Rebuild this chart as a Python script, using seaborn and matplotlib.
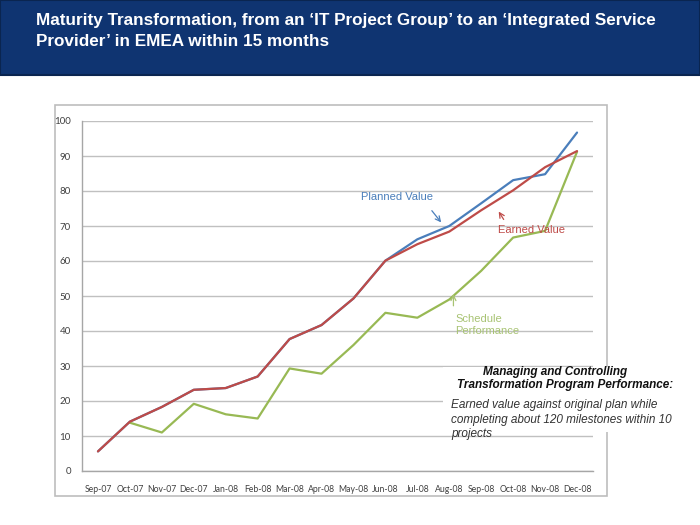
import numpy as np
import pandas as pd
import matplotlib
matplotlib.use("Agg")
import matplotlib.pyplot as plt
import seaborn as sns
from matplotlib.patches import Rectangle
from matplotlib.ticker import FixedLocator

# months on the x axis
months = ["Sep-07", "Oct-07", "Nov-07", "Dec-07", "Jan-08", "Feb-08", "Mar-08", "Apr-08",
          "May-08", "Jun-08", "Jul-08", "Aug-08", "Sep-08", "Oct-08", "Nov-08", "Dec-08"]

planned_value = [5.6, 14.1, 18.3, 23.2, 23.7, 27.0, 37.7, 41.7,
                 49.3, 60.1, 66.2, 70.0, 76.5, 83.1, 84.8, 96.7]
earned_value = [5.6, 14.1, 18.3, 23.2, 23.7, 27.0, 37.7, 41.7,
                49.3, 60.1, 64.8, 68.4, 74.5, 80.2, 86.8, 91.4]
schedule_perf = [np.nan, 13.8, 11.0, 19.2, 16.2, 15.0, 29.3, 27.8,
                 36.0, 45.2, 43.8, 49.0, 57.2, 66.7, 68.6, 91.2]

df = pd.DataFrame({"month": months, "planned": planned_value,
                   "earned": earned_value, "schedule": schedule_perf})

sns.set_style("white")
plt.rcParams["font.family"] = ["Liberation Sans", "DejaVu Sans"]

W, H = 700, 525
fig = plt.figure(figsize=(7, 5.25), dpi=100)

# navy header band
fig.patches.append(Rectangle((0, 1 - 75 / H), 1, 75 / H, transform=fig.transFigure,
                             facecolor="#0f3471", edgecolor="#0a2550", lw=1.5, zorder=0))
fig.text(36 / W, 1 - 20 / H, "Maturity Transformation, from an \u2018IT Project Group\u2019 to an \u2018Integrated Service",
         color="white", fontsize=12.3, fontweight="bold", va="center", ha="left")
fig.text(36 / W, 1 - 41 / H, "Provider\u2019 in EMEA within 15 months",
         color="white", fontsize=12.3, fontweight="bold", va="center", ha="left")

# chart frame
fig.patches.append(Rectangle((55 / W, 1 - 496 / H), 552 / W, 391 / H, transform=fig.transFigure,
                             facecolor="white", edgecolor="#bdbdbd", lw=1.2, zorder=0))

ax = fig.add_axes([82 / W, 1 - 471 / H, 511 / W, 350 / H])
ax.set_zorder(1)

sns.lineplot(data=df, x="month", y="planned", color="#4a7ebb", lw=1.6, ax=ax, sort=False)
sns.lineplot(data=df, x="month", y="schedule", color="#98b954", lw=1.6, ax=ax, sort=False)
sns.lineplot(data=df, x="month", y="earned", color="#be4b48", lw=1.6, ax=ax, sort=False)

ax.set_xlim(-0.5, len(months) - 0.5)
ax.set_ylim(0, 100)
ax.set_yticks(range(0, 101, 10))
ax.set_xlabel("")
ax.set_ylabel("")
ax.yaxis.grid(True, color="#c0c0c0", lw=1)
ax.set_axisbelow(True)
for s in ["top", "right"]:
    ax.spines[s].set_visible(False)
for s in ["left", "bottom"]:
    ax.spines[s].set_color("#a6a6a6")
    ax.spines[s].set_linewidth(1)

ax.xaxis.set_minor_locator(FixedLocator(np.arange(-0.5, len(months), 1)))
ax.tick_params(axis="x", which="major", length=0, pad=10, labelsize=6.2, labelcolor="#404040")
ax.tick_params(axis="x", which="minor", length=4, color="#a6a6a6", direction="out")
ax.tick_params(axis="y", length=4, color="#a6a6a6", pad=4, labelsize=7, labelcolor="#404040")
for lab in ax.get_xticklabels() + ax.get_yticklabels():
    lab.set_family(["Lato", "DejaVu Sans"])

# labels with arrows
ax.annotate("", xy=(10.8, 70.4), xytext=(10.4, 75.0),
            arrowprops=dict(arrowstyle="->", color="#4a7ebb", lw=0.9, mutation_scale=9))
ax.text(8.25, 78.3, "Planned Value", color="#4a7ebb", fontsize=8, va="center", ha="left")

ax.annotate("", xy=(12.5, 74.8), xytext=(12.75, 71.2),
            arrowprops=dict(arrowstyle="->", color="#be4b48", lw=0.9, mutation_scale=9))
ax.text(12.53, 68.9, "Earned Value", color="#be4b48", fontsize=8, va="center", ha="left")

ax.annotate("", xy=(11.13, 51.3), xytext=(11.13, 46.4),
            arrowprops=dict(arrowstyle="->", color="#a8c373", lw=0.9, mutation_scale=9))
ax.text(11.19, 41.8, "Schedule\nPerformance", color="#a8c373", fontsize=8,
        va="center", ha="left", linespacing=1.25)

# text box
fig.patches.append(Rectangle((443 / W, 1 - 432 / H), 257 / W, 65 / H, transform=fig.transFigure,
                             facecolor="white", edgecolor="none", zorder=2))
fig.text(555 / W, 1 - 372 / H, "Managing and Controlling", fontsize=8.5, fontweight="bold",
         style="italic", ha="center", va="center", color="#111111", zorder=3)
fig.text(565 / W, 1 - 385 / H, "Transformation Program Performance:", fontsize=8.5, fontweight="bold",
         style="italic", ha="center", va="center", color="#111111", zorder=3)
fig.text(451 / W, 1 - 405 / H, "Earned value against original plan while", fontsize=8.5,
         style="italic", ha="left", va="center", color="#333333", zorder=3)
fig.text(451 / W, 1 - 420 / H, "completing about 120 milestones within 10", fontsize=8.5,
         style="italic", ha="left", va="center", color="#333333", zorder=3)
fig.text(451 / W, 1 - 434 / H, "projects", fontsize=8.5,
         style="italic", ha="left", va="center", color="#333333", zorder=3)

fig.savefig("out.png", dpi=100)
